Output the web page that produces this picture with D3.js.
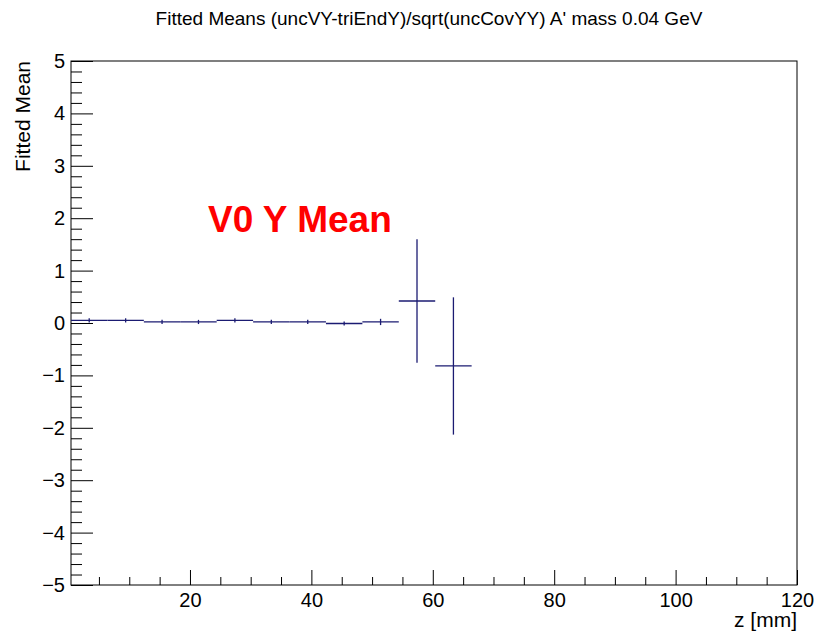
<!DOCTYPE html>
<html>
<head>
<meta charset="utf-8">
<script src="https://cdn.jsdelivr.net/npm/d3@7"></script>
<style>
  body { margin: 0; background: #fff; }
  text { font-family: "Liberation Sans", Arial, Helvetica, sans-serif; }
</style>
</head>
<body>
<div id="chart"></div>
<script>
// bin centres in z [mm], fitted means and their errors
const zCenters = [3.4, 9.4, 15.4, 21.4, 27.4, 33.4, 39.4, 45.4, 51.4, 57.4, 63.4];
const means = [0.05, 0.05, 0.02, 0.02, 0.05, 0.02, 0.02, -0.01, 0.02, 0.42, -0.82];
const errors = [0.04, 0.04, 0.04, 0.04, 0.04, 0.04, 0.04, 0.04, 0.06, 1.18, 1.31];
const binWidth = 6;

const xDomain = [0.4, 120];
const yDomain = [-5, 5];
const xMajor = [20, 40, 60, 80, 100, 120];
const yMajor = [-5, -4, -3, -2, -1, 0, 1, 2, 3, 4, 5];

const title = "Fitted Means (uncVY-triEndY)/sqrt(uncCovYY) A' mass 0.04 GeV";
const xTitle = 'z [mm]';
const yTitle = 'Fitted Mean';
const label = 'V0 Y Mean';

const width = 815, height = 632;
const margin = {top: 61, right: 18, bottom: 47, left: 71};
const w = width - margin.left - margin.right;
const h = height - margin.top - margin.bottom;
const lineColor = '#1b1b72';

const svg = d3.select('#chart').append('svg')
  .attr('width', width)
  .attr('height', height);

const g = svg.append('g')
  .attr('transform', 'translate(' + margin.left + ',' + margin.top + ')');

const x = d3.scaleLinear().domain(xDomain).range([0, w]);
const y = d3.scaleLinear().domain(yDomain).range([h, 0]);

// minor tick values
const xMinor = d3.range(5, 120, 5).filter(v => v % 20 !== 0 && v > xDomain[0]);
const yMinor = d3.range(-50, 51, 2).map(v => v / 10).filter(v => v % 1 !== 0);

// x axis (ticks pointing up into the frame)
const xAxis = g.append('g')
  .attr('transform', 'translate(0,' + h + ')');
xAxis.call(d3.axisBottom(x).tickValues(xMajor).tickSize(-15).tickPadding(8).tickFormat(d3.format('d')));
xAxis.append('g').call(d3.axisBottom(x).tickValues(xMinor).tickSize(-8).tickFormat(''));

const yAxis = g.append('g');
yAxis.call(d3.axisLeft(y).tickValues(yMajor).tickSize(-22).tickPadding(6)
  .tickFormat(d => d < 0 ? '\u2212' + Math.abs(d) : d));
yAxis.append('g').call(d3.axisLeft(y).tickValues(yMinor).tickSize(-11).tickFormat(''));

g.selectAll('.domain').remove();
g.selectAll('.tick line').attr('stroke', '#000').attr('stroke-width', 1);
g.selectAll('.tick text').attr('font-size', 20).attr('fill', '#000')
  .style('font-family', '"Liberation Sans", Arial, sans-serif');

// frame
g.append('rect')
  .attr('width', w).attr('height', h)
  .attr('fill', 'none').attr('stroke', '#000').attr('stroke-width', 1);

// data points: horizontal bin-width bar + vertical error bar
const pts = g.append('g').selectAll('g.pt')
  .data(zCenters.map((z, i) => ({z, m: means[i], e: errors[i]})))
  .join('g').attr('class', 'pt');

pts.append('line')
  .attr('x1', d => x(d.z - binWidth / 2)).attr('x2', d => x(d.z + binWidth / 2))
  .attr('y1', d => y(d.m)).attr('y2', d => y(d.m))
  .attr('stroke', lineColor).attr('stroke-width', 1.3);

pts.append('line')
  .attr('x1', d => x(d.z)).attr('x2', d => x(d.z))
  .attr('y1', d => y(d.m - d.e)).attr('y2', d => y(d.m + d.e))
  .attr('stroke', lineColor).attr('stroke-width', 1.3);

// titles
svg.append('text')
  .attr('x', 429).attr('y', 25)
  .attr('text-anchor', 'middle')
  .attr('font-size', 19)
  .text(title);

svg.append('text')
  .attr('x', margin.left + w).attr('y', 627)
  .attr('text-anchor', 'end')
  .attr('font-size', 21)
  .text(xTitle);

svg.append('text')
  .attr('transform', 'translate(30,' + margin.top + ') rotate(-90)')
  .attr('text-anchor', 'end')
  .attr('font-size', 21)
  .text(yTitle);

svg.append('text')
  .attr('x', 208).attr('y', 232)
  .attr('font-size', 37)
  .attr('font-weight', 'bold')
  .attr('fill', '#ff0000')
  .text(label);
</script>
</body>
</html>
